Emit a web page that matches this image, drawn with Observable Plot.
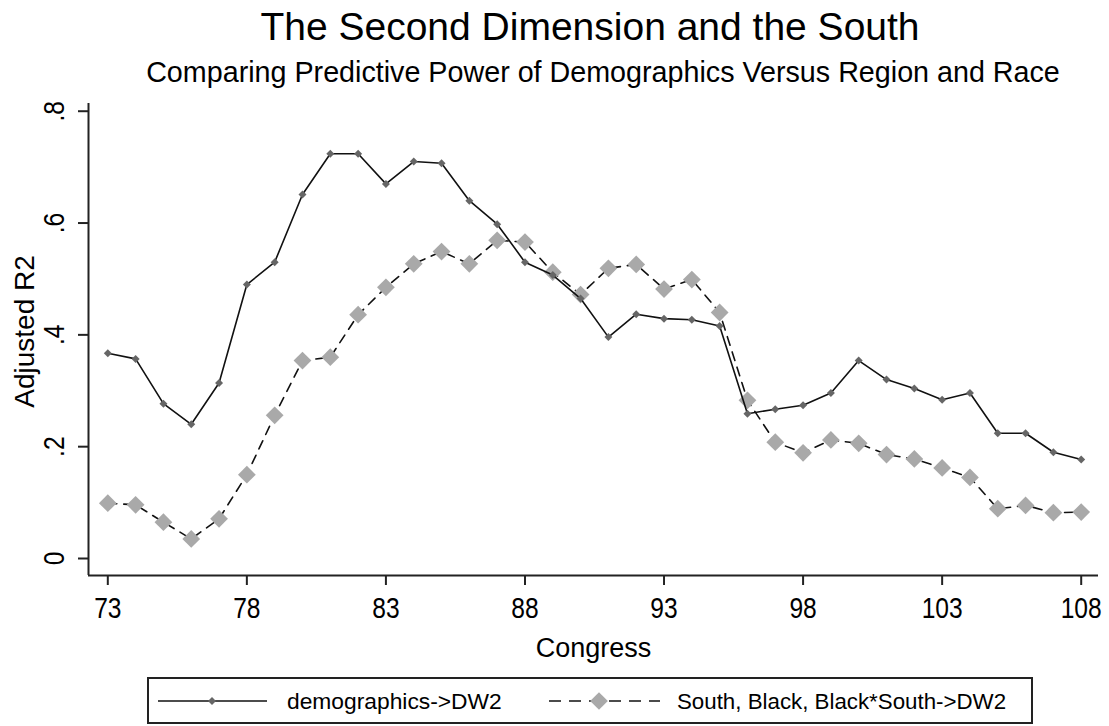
<!DOCTYPE html>
<html>
<head>
<meta charset="utf-8">
<script src="https://cdn.jsdelivr.net/npm/d3@7"></script>
<script src="https://cdn.jsdelivr.net/npm/@observablehq/plot@0.6"></script>
<style>
  html, body { margin: 0; padding: 0; background: #fff; }
  #wrap { position: relative; width: 1109px; height: 726px; overflow: hidden; font-family: "Liberation Sans", Arial, sans-serif; color: #000; }
  .title { position: absolute; left: 90px; width: 1000px; text-align: center; line-height: 1; white-space: nowrap; }
  #t1 { top: 7px; font-size: 39px; }
  #t2 { top: 58px; font-size: 28.7px; left: 103px; }
  #chart { position: absolute; left: 0; top: 95px; }
  #legend { position: absolute; left: 147px; top: 677px; }
</style>
</head>
<body>
<div id="wrap">
  <div class="title" id="t1">The Second Dimension and the South</div>
  <div class="title" id="t2">Comparing Predictive Power of Demographics Versus Region and Race</div>
  <div id="chart"></div>
  <div id="legend"></div>
</div>
<script>
const congress = [73,74,75,76,77,78,79,80,81,82,83,84,85,86,87,88,89,90,91,92,93,94,95,96,97,98,99,100,101,102,103,104,105,106,107,108];
const demographics = [0.367,0.357,0.277,0.240,0.314,0.490,0.530,0.651,0.724,0.724,0.670,0.710,0.707,0.640,0.598,0.530,0.507,0.465,0.396,0.437,0.429,0.427,0.416,0.259,0.267,0.274,0.296,0.354,0.320,0.304,0.284,0.296,0.224,0.224,0.190,0.177];
const southBlack = [0.099,0.096,0.065,0.035,0.071,0.150,0.256,0.354,0.360,0.436,0.485,0.527,0.549,0.527,0.569,0.566,0.512,0.472,0.519,0.526,0.482,0.499,0.440,0.283,0.208,0.189,0.212,0.206,0.186,0.178,0.162,0.145,0.089,0.095,0.082,0.083];
const seriesNames = ["demographics->DW2", "South, Black, Black*South->DW2"];
const xTicks = [73,78,83,88,93,98,103,108];
const yTicks = [0,0.2,0.4,0.6,0.8];
const yTickLabels = ["0",".2",".4",".6",".8"];
const xDomain = [72.306, 108.622];
const yDomain = [-0.0304, 0.8138];

const demoData = congress.map((c, i) => ({congress: c, r2: demographics[i]}));
const southData = congress.map((c, i) => ({congress: c, r2: southBlack[i]}));

const chart = Plot.plot({
  width: 1109,
  height: 575,
  marginLeft: 88,
  marginRight: 11,
  marginTop: 8,
  marginBottom: 95,
  style: {fontFamily: "'Liberation Sans', Arial, sans-serif", background: "#fff", color: "#000", overflow: "visible"},
  x: {domain: xDomain, axis: null},
  y: {domain: yDomain, axis: null},
  marks: [
    Plot.ruleY([yDomain[0]], {stroke: "#222", strokeWidth: 2}),
    Plot.ruleX([xDomain[0]], {stroke: "#222", strokeWidth: 2}),
    Plot.axisX({ticks: xTicks, tickSize: 10, tickPadding: 11, fontSize: 30, strokeWidth: 2, stroke: "#222", tickFormat: d => String(d), label: null}),
    Plot.axisY({ticks: yTicks, tickSize: 10, strokeWidth: 2, stroke: "#222", tickFormat: () => "", label: null}),
    Plot.text(yTicks, {y: d => d, frameAnchor: "left", text: (d, i) => yTickLabels[i], rotate: -90, dx: -25, lineAnchor: "bottom", textAnchor: "middle", fontSize: 30}),
    Plot.text(["Adjusted R2"], {frameAnchor: "left", text: d => d, rotate: -90, dx: -55, dy: -8, lineAnchor: "bottom", textAnchor: "middle", fontSize: 28}),
    Plot.text(["Congress"], {frameAnchor: "bottom", text: d => d, dy: 81, lineAnchor: "bottom", textAnchor: "middle", fontSize: 27}),
    Plot.line(southData, {x: "congress", y: "r2", stroke: "#111", strokeWidth: 1.6, strokeDasharray: "9,7"}),
    Plot.dot(southData, {x: "congress", y: "r2", symbol: "diamond2", r: 8, fill: "#a9a9a9", stroke: "none"}),
    Plot.line(demoData, {x: "congress", y: "r2", stroke: "#111", strokeWidth: 1.6}),
    Plot.dot(demoData, {x: "congress", y: "r2", symbol: "diamond2", r: 3.6, fill: "#666666", stroke: "none"})
  ]
});
document.getElementById("chart").appendChild(chart);

// Condense tick label glyphs horizontally (narrow axis font in the original)
const xLabelSet = new Set(xTicks.map(String));
const yLabelSet = new Set(yTickLabels);
d3.select(chart).selectAll("text").each(function() {
  const t = this.textContent;
  const tr = this.getAttribute("transform") || "";
  if (xLabelSet.has(t) && !tr.includes("rotate")) this.setAttribute("transform", tr + " scale(0.82,1)");
  else if (yLabelSet.has(t) && tr.includes("rotate")) this.setAttribute("transform", tr + " scale(0.82,1)");
});

// Legend
const lw = 886, lh = 47;
const legend = d3.select("#legend").append("svg").attr("width", lw).attr("height", lh)
  .style("font-family", "'Liberation Sans', Arial, sans-serif");
legend.append("rect").attr("x", 1).attr("y", 1).attr("width", lw - 2).attr("height", lh - 2)
  .attr("fill", "#fff").attr("stroke", "#222").attr("stroke-width", 2);
const sym = d3.symbol().type(d3.symbolDiamond2);
legend.append("line").attr("x1", 11).attr("x2", 120).attr("y1", 24).attr("y2", 24).attr("stroke", "#111").attr("stroke-width", 1.6);
legend.append("path").attr("d", sym.size(40)()).attr("transform", "translate(65,24)").attr("fill", "#666");
legend.append("text").attr("x", 140).attr("y", 32).attr("font-size", 22.8).text(seriesNames[0]);
legend.append("line").attr("x1", 402).attr("x2", 513).attr("y1", 24).attr("y2", 24).attr("stroke", "#111").attr("stroke-width", 1.6).attr("stroke-dasharray", "12,8");
legend.append("path").attr("d", sym.size(200)()).attr("transform", "translate(452,24)").attr("fill", "#a9a9a9");
legend.append("text").attr("x", 530).attr("y", 32).attr("font-size", 22.3).text(seriesNames[1]);
</script>
</body>
</html>
